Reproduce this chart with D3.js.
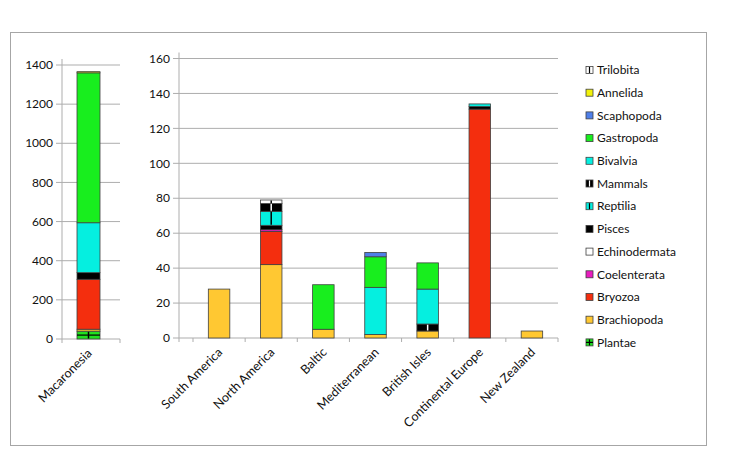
<!DOCTYPE html>
<html>
<head>
<meta charset="utf-8">
<title>Fossil groups by region</title>
<script src="https://d3js.org/d3.v7.min.js"></script>
<style>
  body { margin: 0; background: #fff; font-family: Lato, "Open Sans", sans-serif; }
  text { fill: #111; }
</style>
</head>
<body>
<script>
// regions: first one goes on the left panel (own scale), the rest on the right
const regions = ["Macaronesia", "South America", "North America", "Baltic",
                 "Mediterranean", "British Isles", "Continental Europe", "New Zealand"];

// stack order, bottom to top
const series = ["Plantae", "Brachiopoda", "Bryozoa", "Coelenterata", "Echinodermata",
                "Pisces", "Reptilia", "Mammals", "Bivalvia", "Gastropoda",
                "Scaphopoda", "Annelida", "Trilobita"];

// counts per region (same order as regions)
const plantae       = [40, 0, 0,   0,    0,  0,   0, 0];
const brachiopoda   = [10, 28, 42, 5,    2,  4,   0, 4];
const bryozoa       = [255, 0, 19, 0,    0,  0, 131, 0];
const coelenterata  = [0, 0, 1,    0,    0,  0,   0, 0];
const echinodermata = [0, 0, 0,    0,    0,  0,   0, 0];
const pisces        = [34, 0, 2.5, 0,    0,  0, 1.5, 0];
const reptilia      = [0, 0, 8,    0,    0,  0,   0, 0];
const mammals       = [0, 0, 4.5,  0,    0,  4,   0, 0];
const bivalvia      = [255, 0, 0,  0,   27, 20, 1.5, 0];
const gastropoda    = [766, 0, 0, 25.5, 17.5, 15, 0, 0];
const scaphopoda    = [0, 0, 0,    0,  2.5,  0,   0, 0];
const annelida      = [6, 0, 0,    0,    0,  0,   0, 0];
const trilobita     = [0, 0, 2,    0,    0,  0,   0, 0];

const leftTicks = d3.range(0, 1401, 200);
const rightTicks = d3.range(0, 161, 20);

const valuesBySeries = {
  Plantae: plantae, Brachiopoda: brachiopoda, Bryozoa: bryozoa, Coelenterata: coelenterata,
  Echinodermata: echinodermata, Pisces: pisces, Reptilia: reptilia, Mammals: mammals,
  Bivalvia: bivalvia, Gastropoda: gastropoda, Scaphopoda: scaphopoda, Annelida: annelida,
  Trilobita: trilobita
};

// fills and the little pattern lines Excel drew
const styles = {
  Plantae:       { fill: "#20e020", line: "#000", cross: true },
  Brachiopoda:   { fill: "#ffc832" },
  Bryozoa:       { fill: "#f42e0e" },
  Coelenterata:  { fill: "#e81cbe" },
  Echinodermata: { fill: "#ffffff" },
  Pisces:        { fill: "#000000" },
  Reptilia:      { fill: "#05efe0", line: "#000" },
  Mammals:       { fill: "#000000", line: "#fff" },
  Bivalvia:      { fill: "#05efe0" },
  Gastropoda:    { fill: "#18ee1e" },
  Scaphopoda:    { fill: "#4f7fe8" },
  Annelida:      { fill: "#f2f20a" },
  Trilobita:     { fill: "#ffffff", line: "#000" }
};

const rows = regions.map(function (r, i) {
  const row = { region: r };
  series.forEach(function (s) { row[s] = valuesBySeries[s][i]; });
  return row;
});

const width = 740, height = 465;
const svg = d3.select("body").append("svg")
  .attr("width", width)
  .attr("height", height);

// outer chart border
svg.append("rect")
  .attr("x", 10.5).attr("y", 32.5)
  .attr("width", 696).attr("height", 413)
  .attr("fill", "#fff")
  .attr("stroke", "#a6a6a6");

const stack = d3.stack().keys(series);
const gridColor = "#adadad";

function drawPanel(data, opts) {
  const g = svg.append("g");
  const y = d3.scaleLinear().domain([0, opts.max]).range([opts.y0, opts.y1]);
  const x = d3.scaleBand().domain(data.map(d => d.region)).range(opts.xRange);

  // gridlines + tick labels
  opts.ticks.forEach(function (t) {
    g.append("line")
      .attr("x1", opts.axisX - 6).attr("x2", opts.xEnd)
      .attr("y1", y(t)).attr("y2", y(t))
      .attr("stroke", gridColor).attr("stroke-width", 1);
    g.append("text")
      .attr("x", opts.axisX - 9).attr("y", y(t))
      .attr("dy", "0.35em")
      .attr("text-anchor", "end")
      .style("font-size", "12px")
      .text(t);
  });

  // y axis line
  g.append("line")
    .attr("x1", opts.axisX).attr("x2", opts.axisX)
    .attr("y1", opts.y1 - 6).attr("y2", opts.y0 + 4)
    .attr("stroke", gridColor);

  // category ticks on the baseline
  const edges = x.domain().map(d => x(d)).concat([x(x.domain()[x.domain().length - 1]) + x.bandwidth()]);
  edges.filter(e => e > opts.axisX + 1).forEach(function (e) {
    g.append("line")
      .attr("x1", e).attr("x2", e)
      .attr("y1", opts.y0).attr("y2", opts.y0 + 4)
      .attr("stroke", gridColor);
  });

  // stacked bars
  const bw = opts.barWidth;
  stack(data).forEach(function (s) {
    const st = styles[s.key];
    s.forEach(function (d) {
      if (d[1] - d[0] <= 0) return;
      const cx = x(d.data.region) + x.bandwidth() / 2;
      const top = y(d[1]), h = y(d[0]) - y(d[1]);
      g.append("rect")
        .attr("x", cx - bw / 2).attr("y", top)
        .attr("width", bw).attr("height", h)
        .attr("fill", st.fill)
        .attr("stroke", "#404040").attr("stroke-width", 0.8);
      if (st.line) {
        g.append("line")
          .attr("x1", cx).attr("x2", cx)
          .attr("y1", top + 0.5).attr("y2", top + h - 0.5)
          .attr("stroke", st.line).attr("stroke-width", 1.5);
      }
      if (st.cross) {
        g.append("line")
          .attr("x1", cx - bw / 2).attr("x2", cx + bw / 2)
          .attr("y1", top + h / 2).attr("y2", top + h / 2)
          .attr("stroke", st.line).attr("stroke-width", 1.2);
      }
    });
  });

  // rotated category labels
  x.domain().forEach(function (c) {
    const cx = x(c) + x.bandwidth() / 2;
    g.append("text")
      .attr("transform", "translate(" + (cx + 1) + "," + (opts.y0 + 12) + ") rotate(-45)")
      .attr("text-anchor", "end")
      .attr("dy", "0.35em")
      .style("font-size", "12.5px")
      .text(c);
  });
}

drawPanel(rows.slice(0, 1), {
  max: 1400, y0: 339, y1: 65, ticks: leftTicks,
  axisX: 62, xEnd: 120, xRange: [57, 120], barWidth: 23
});

drawPanel(rows.slice(1), {
  max: 160, y0: 338, y1: 58.5, ticks: rightTicks,
  axisX: 179, xEnd: 558, xRange: [193, 558], barWidth: 21.5
});

// legend, top entry is the last series
const legend = svg.append("g");
series.slice().reverse().forEach(function (s, i) {
  const yc = 70 + i * 22.7;
  const st = styles[s];
  legend.append("rect")
    .attr("x", 586).attr("y", yc - 3.5)
    .attr("width", 7).attr("height", 7)
    .attr("fill", st.fill)
    .attr("stroke", "#404040").attr("stroke-width", 0.8);
  if (st.line) {
    legend.append("line")
      .attr("x1", 589.5).attr("x2", 589.5)
      .attr("y1", yc - 3).attr("y2", yc + 3)
      .attr("stroke", st.line).attr("stroke-width", 1.2);
  }
  if (st.cross) {
    legend.append("line")
      .attr("x1", 586).attr("x2", 593)
      .attr("y1", yc).attr("y2", yc)
      .attr("stroke", st.line).attr("stroke-width", 1.2);
  }
  legend.append("text")
    .attr("x", 597).attr("y", yc)
    .attr("dy", "0.35em")
    .style("font-size", "12px")
    .text(s);
});
</script>
</body>
</html>
